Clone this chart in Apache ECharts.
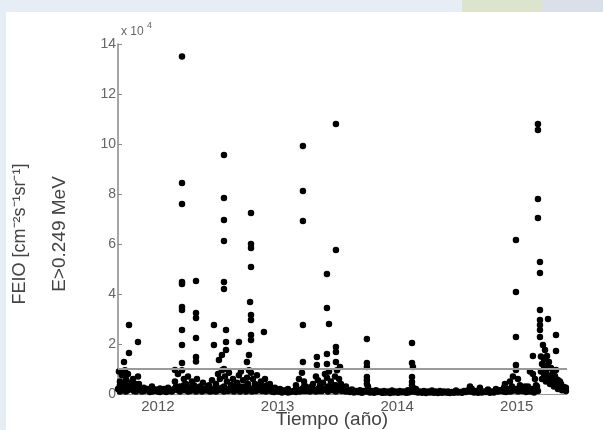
<!DOCTYPE html>
<html>
<head>
<meta charset="utf-8">
<script src="https://cdn.jsdelivr.net/npm/echarts@6/dist/echarts.min.js"></script>
<style>
  html, body { margin: 0; padding: 0; background: #fff; }
  #myChart { width: 603px; height: 430px; }
</style>
</head>
<body>
<div id="myChart"></div>
<script>
// flux values are in units of 10^4 (cm^-2 s^-1 sr^-1), time in decimal years
const yearTicks = [2012, 2013, 2014, 2015]
const fluxTicks = [0, 2, 4, 6, 8, 10, 12, 14]
const threshold = 1

// quiet-time floor, three rows
const floorLow = [
  [2011.666, 0.2], [2011.699, 0.15], [2011.732, 0.1], [2011.766, 0.2], [2011.799, 0.12], [2011.833, 0.18],
  [2011.866, 0.1], [2011.900, 0.15], [2011.933, 0.08], [2011.967, 0.12], [2012.000, 0.1], [2012.033, 0.15],
  [2012.067, 0.08], [2012.100, 0.12], [2012.134, 0.2], [2012.167, 0.15], [2012.201, 0.25], [2012.234, 0.18],
  [2012.268, 0.12], [2012.301, 0.2], [2012.334, 0.15], [2012.368, 0.1], [2012.401, 0.14], [2012.435, 0.1],
  [2012.468, 0.2], [2012.502, 0.15], [2012.535, 0.25], [2012.569, 0.2], [2012.602, 0.15], [2012.635, 0.1],
  [2012.669, 0.2], [2012.702, 0.15], [2012.736, 0.1], [2012.769, 0.2], [2012.803, 0.25], [2012.836, 0.15],
  [2012.870, 0.12], [2012.903, 0.1], [2012.936, 0.14], [2012.970, 0.08], [2013.003, 0.1], [2013.037, 0.06],
  [2013.070, 0.1], [2013.104, 0.08], [2013.137, 0.12], [2013.171, 0.15], [2013.204, 0.2], [2013.237, 0.12],
  [2013.271, 0.1], [2013.304, 0.15], [2013.338, 0.2], [2013.371, 0.12], [2013.405, 0.18], [2013.438, 0.25],
  [2013.472, 0.15], [2013.505, 0.2], [2013.538, 0.12], [2013.572, 0.1], [2013.605, 0.08], [2013.639, 0.06],
  [2013.672, 0.08], [2013.706, 0.05], [2013.739, 0.1], [2013.773, 0.06], [2013.806, 0.05], [2013.839, 0.08],
  [2013.873, 0.05], [2013.906, 0.06], [2013.940, 0.04], [2013.973, 0.06], [2014.007, 0.05], [2014.040, 0.07],
  [2014.074, 0.05], [2014.107, 0.08], [2014.140, 0.1], [2014.174, 0.06], [2014.207, 0.05], [2014.241, 0.04],
  [2014.274, 0.06], [2014.308, 0.05], [2014.341, 0.04], [2014.375, 0.05], [2014.408, 0.06], [2014.441, 0.04],
  [2014.475, 0.05], [2014.508, 0.06], [2014.542, 0.05], [2014.575, 0.08], [2014.609, 0.1], [2014.642, 0.06],
  [2014.676, 0.05], [2014.709, 0.06], [2014.742, 0.08], [2014.776, 0.05], [2014.809, 0.06], [2014.843, 0.1],
  [2014.876, 0.12], [2014.910, 0.08], [2014.943, 0.1], [2014.977, 0.15], [2015.010, 0.1], [2015.044, 0.12],
  [2015.077, 0.08], [2015.110, 0.1], [2015.144, 0.06], [2015.177, 0.12], [2015.211, 0.6], [2015.244, 0.5],
  [2015.278, 0.4], [2015.311, 0.3], [2015.344, 0.2], [2015.378, 0.15], [2015.411, 0.12]
]
const floorMid = [
  [2011.682, 0.1], [2011.716, 0.3], [2011.749, 0.15], [2011.783, 0.25], [2011.816, 0.1], [2011.849, 0.22],
  [2011.883, 0.12], [2011.916, 0.2], [2011.950, 0.1], [2011.983, 0.18], [2012.017, 0.08], [2012.050, 0.2],
  [2012.084, 0.12], [2012.117, 0.1], [2012.151, 0.18], [2012.184, 0.1], [2012.217, 0.15], [2012.251, 0.1],
  [2012.284, 0.15], [2012.318, 0.1], [2012.351, 0.18], [2012.385, 0.2], [2012.418, 0.15], [2012.452, 0.12],
  [2012.485, 0.1], [2012.518, 0.15], [2012.552, 0.1], [2012.585, 0.12], [2012.619, 0.2], [2012.652, 0.15],
  [2012.686, 0.1], [2012.719, 0.2], [2012.753, 0.15], [2012.786, 0.1], [2012.819, 0.12], [2012.853, 0.2],
  [2012.886, 0.15], [2012.920, 0.2], [2012.953, 0.1], [2012.987, 0.15], [2013.020, 0.1], [2013.054, 0.12],
  [2013.087, 0.06], [2013.120, 0.1], [2013.154, 0.08], [2013.187, 0.1], [2013.221, 0.12], [2013.254, 0.2],
  [2013.288, 0.15], [2013.321, 0.1], [2013.355, 0.12], [2013.388, 0.2], [2013.421, 0.1], [2013.455, 0.15],
  [2013.488, 0.1], [2013.522, 0.15], [2013.555, 0.2], [2013.589, 0.15], [2013.622, 0.1], [2013.656, 0.12],
  [2013.689, 0.08], [2013.722, 0.12], [2013.756, 0.1], [2013.789, 0.12], [2013.823, 0.08], [2013.856, 0.1],
  [2013.890, 0.06], [2013.923, 0.1], [2013.957, 0.08], [2013.990, 0.1], [2014.023, 0.08], [2014.057, 0.1],
  [2014.090, 0.06], [2014.124, 0.12], [2014.157, 0.08], [2014.191, 0.1], [2014.224, 0.08], [2014.258, 0.1],
  [2014.291, 0.08], [2014.324, 0.1], [2014.358, 0.08], [2014.391, 0.1], [2014.425, 0.06], [2014.458, 0.08],
  [2014.492, 0.1], [2014.525, 0.08], [2014.559, 0.1], [2014.592, 0.15], [2014.625, 0.1], [2014.659, 0.12],
  [2014.692, 0.08], [2014.726, 0.1], [2014.759, 0.12], [2014.793, 0.1], [2014.826, 0.12], [2014.860, 0.15],
  [2014.893, 0.1], [2014.926, 0.2], [2014.960, 0.12], [2014.993, 0.2], [2015.027, 0.15], [2015.060, 0.2],
  [2015.094, 0.15], [2015.127, 0.2], [2015.161, 0.15], [2015.261, 0.7], [2015.328, 0.35], [2015.395, 0.2]
]
const floorHigh = [
  [2011.682, 0.35], [2011.749, 0.3], [2011.816, 0.4], [2011.883, 0.25], [2011.950, 0.3], [2012.017, 0.22],
  [2012.084, 0.25], [2012.151, 0.3], [2012.217, 0.35], [2012.284, 0.3], [2012.351, 0.28], [2012.418, 0.3],
  [2012.485, 0.35], [2012.552, 0.3], [2012.619, 0.35], [2012.686, 0.3], [2012.753, 0.4], [2012.819, 0.35],
  [2012.886, 0.3], [2012.953, 0.22], [2013.020, 0.18], [2013.087, 0.2], [2013.154, 0.22], [2013.221, 0.3],
  [2013.288, 0.3], [2013.355, 0.35], [2013.421, 0.3], [2013.488, 0.35], [2013.555, 0.25], [2013.622, 0.18],
  [2013.689, 0.15], [2013.756, 0.2], [2013.823, 0.15], [2013.890, 0.12], [2013.957, 0.14], [2014.023, 0.12],
  [2014.090, 0.15], [2014.157, 0.2], [2014.224, 0.12], [2014.291, 0.14], [2014.358, 0.12], [2014.425, 0.1],
  [2014.492, 0.14], [2014.559, 0.12], [2014.625, 0.2], [2014.692, 0.15], [2014.759, 0.18], [2014.826, 0.2],
  [2014.893, 0.25], [2014.960, 0.3], [2015.027, 0.25], [2015.094, 0.3], [2015.161, 0.35], [2015.227, 0.8],
  [2015.294, 0.55], [2015.361, 0.35], [2015.411, 0.25]
]

// mid-level points of each enhancement
const eventBand = [
  [2011.674, 0.9], [2011.682, 0.5], [2011.691, 0.3], [2011.699, 0.75], [2011.716, 0.4], [2011.724, 0.95],
  [2011.732, 0.6], [2011.741, 0.3], [2011.749, 0.8], [2011.766, 0.45], [2011.774, 0.2], [2011.791, 0.6],
  [2011.799, 0.35], [2011.816, 0.25], [2011.833, 0.7], [2011.841, 0.4], [2011.858, 0.2],
  [2012.142, 0.5], [2012.167, 0.8], [2012.184, 0.3], [2012.201, 0.95], [2012.217, 0.6], [2012.234, 0.4],
  [2012.251, 0.7], [2012.268, 0.25], [2012.284, 0.5], [2012.301, 0.35], [2012.326, 0.6], [2012.351, 0.3],
  [2012.376, 0.45], [2012.401, 0.2], [2012.426, 0.35], [2012.452, 0.55],
  [2012.485, 0.4], [2012.502, 0.8], [2012.518, 0.6], [2012.535, 0.95], [2012.552, 1.0], [2012.560, 0.7],
  [2012.577, 0.5], [2012.594, 0.85], [2012.610, 0.35], [2012.627, 0.6], [2012.644, 0.25], [2012.661, 0.45],
  [2012.677, 0.75], [2012.694, 0.9], [2012.711, 0.55], [2012.727, 0.3], [2012.744, 0.65], [2012.761, 0.95],
  [2012.778, 0.85], [2012.794, 0.6], [2012.811, 0.4], [2012.828, 0.75], [2012.844, 0.3], [2012.861, 0.5],
  [2012.878, 0.25], [2012.895, 0.6], [2012.911, 0.35], [2012.928, 0.2], [2012.936, 0.4], [2012.978, 0.25],
  [2013.020, 0.2], [2013.062, 0.15],
  [2013.154, 0.35], [2013.179, 0.6], [2013.204, 0.85], [2013.221, 0.5], [2013.237, 0.3], [2013.271, 0.25],
  [2013.296, 0.4], [2013.321, 0.7], [2013.338, 0.55], [2013.355, 0.3], [2013.380, 0.45], [2013.396, 0.8],
  [2013.413, 0.65], [2013.430, 0.9], [2013.446, 0.5], [2013.463, 0.35], [2013.480, 0.7], [2013.497, 0.95],
  [2013.514, 0.6], [2013.530, 0.4], [2013.547, 0.25], [2013.572, 0.3],
  [2013.747, 0.4], [2013.747, 0.55], [2013.756, 0.3], [2014.124, 0.35], [2014.132, 0.25],
  [2014.609, 0.3], [2014.692, 0.25],
  [2014.901, 0.4], [2014.943, 0.5], [2014.968, 0.7], [2015.010, 0.6], [2015.027, 0.35], [2015.069, 0.3],
  [2015.110, 0.9], [2015.135, 0.8], [2015.152, 0.6], [2015.169, 0.3],
  [2015.219, 1.96], [2015.236, 1.76], [2015.253, 1.52], [2015.269, 1.28], [2015.286, 1.04], [2015.303, 0.88],
  [2015.319, 0.72], [2015.344, 0.56], [2015.370, 0.4], [2015.395, 0.28], [2015.211, 1.2], [2015.227, 1.0],
  [2015.244, 0.9], [2015.261, 0.75], [2015.278, 0.65], [2015.294, 0.5], [2015.311, 0.45], [2015.328, 0.6],
  [2015.344, 0.35], [2015.361, 0.5], [2015.378, 0.25], [2015.202, 1.5], [2015.202, 0.9], [2015.227, 1.4],
  [2015.253, 1.15]
]

// peak values
const peaks = [
  [2011.758, 2.76], [2011.833, 2.08], [2011.758, 1.64], [2011.716, 1.28],
  [2012.201, 13.5], [2012.201, 8.44], [2012.201, 7.6], [2012.201, 4.48], [2012.201, 4.4], [2012.201, 3.48],
  [2012.201, 3.36], [2012.201, 2.56], [2012.201, 1.96], [2012.201, 1.24], [2012.142, 0.96],
  [2012.318, 4.52], [2012.318, 3.24], [2012.318, 3.04], [2012.318, 2.24], [2012.318, 1.48], [2012.318, 1.3],
  [2012.468, 2.76], [2012.468, 1.96], [2012.569, 2.56], [2012.569, 2.08], [2012.569, 1.76], [2012.535, 1.56],
  [2012.510, 1.36],
  [2012.552, 9.56], [2012.552, 7.84], [2012.552, 6.96], [2012.552, 6.12], [2012.552, 4.48], [2012.552, 4.2],
  [2012.778, 7.24], [2012.778, 6.0], [2012.778, 5.84], [2012.778, 5.08], [2012.770, 3.68], [2012.778, 3.16],
  [2012.778, 2.96], [2012.778, 2.36], [2012.778, 2.16], [2012.886, 2.48], [2012.677, 2.08], [2012.761, 1.56],
  [2012.744, 1.28],
  [2013.212, 9.92], [2013.212, 8.12], [2013.212, 6.92], [2013.212, 2.76], [2013.212, 1.28],
  [2013.488, 10.8], [2013.488, 5.76], [2013.488, 1.88], [2013.488, 1.68], [2013.488, 1.28], [2013.522, 1.08],
  [2013.413, 4.8], [2013.413, 3.44], [2013.430, 2.8], [2013.413, 1.6], [2013.413, 1.2],
  [2013.329, 1.48], [2013.329, 1.16],
  [2013.747, 2.2], [2013.747, 1.24], [2013.747, 1.08], [2013.747, 0.68],
  [2014.124, 2.04], [2014.124, 1.24], [2014.132, 1.08], [2014.124, 0.68], [2014.124, 0.48],
  [2014.993, 6.16], [2014.993, 4.08], [2014.993, 2.28], [2014.993, 1.16], [2014.993, 0.96], [2015.135, 1.52],
  [2015.177, 10.8], [2015.177, 10.56], [2015.177, 7.8], [2015.177, 7.04], [2015.194, 5.28], [2015.194, 4.84],
  [2015.194, 3.36], [2015.194, 2.96], [2015.194, 2.76], [2015.194, 2.56], [2015.261, 3.0], [2015.194, 2.28],
  [2015.328, 2.36], [2015.328, 1.72], [2015.328, 0.96]
]

const allPoints = floorLow.concat(floorMid, floorHigh, eventBand, peaks)
const labelFont = 'Liberation Sans, Arial, sans-serif'

const myChart = echarts.init(document.getElementById('myChart'))
myChart.setOption({
  animation: false,
  backgroundColor: '#fff',
  grid: {
    left: 118,
    right: 36,
    top: 44,
    bottom: 36,
    containLabel: false,
    outerBoundsMode: 'none'
  },
  xAxis: {
    type: 'value',
    min: 2011.666,
    max: 2015.42,
    axisLine: { onZero: false, lineStyle: { color: '#999', width: 1 } },
    axisTick: { show: false },
    splitLine: { show: false },
    axisLabel: {
      customValues: yearTicks,
      color: '#555',
      fontSize: 15,
      fontFamily: labelFont,
      margin: 5,
      formatter: v => String(v)
    }
  },
  yAxis: {
    type: 'value',
    min: 0,
    max: 14,
    interval: 2,
    axisLine: { show: true, lineStyle: { color: '#888', width: 1.5 } },
    axisTick: { show: true, inside: true, length: 4, lineStyle: { color: '#888' } },
    splitLine: { show: false },
    axisLabel: {
      color: '#666',
      fontSize: 14,
      fontFamily: labelFont,
      margin: 2,
      formatter: v => (fluxTicks.indexOf(v) >= 0 ? String(v) : '')
    }
  },
  graphic: [
    { type: 'rect', left: 0, top: 0, shape: { width: 603, height: 12 }, style: { fill: '#e7edf4' }, silent: true },
    { type: 'rect', left: 462, top: 0, shape: { width: 80, height: 12 }, style: { fill: '#dce4cd' }, silent: true },
    { type: 'rect', left: 542, top: 0, shape: { width: 61, height: 12 }, style: { fill: '#dadfe9' }, silent: true },
    { type: 'rect', left: 0, top: 12, shape: { width: 6, height: 418 }, style: { fill: '#e7edf4' }, silent: true },
    {
      type: 'text',
      x: 121,
      y: 32,
      style: { text: 'x 10', fontSize: 12, fill: '#666', fontFamily: labelFont, verticalAlign: 'middle' }
    },
    {
      type: 'text',
      x: 147,
      y: 26,
      style: { text: '4', fontSize: 9, fill: '#666', fontFamily: labelFont, verticalAlign: 'middle' }
    },
    {
      type: 'text',
      x: 20,
      y: 234,
      rotation: Math.PI / 2,
      style: {
        text: 'FEIO [cm\u207B\u00B2s\u207B\u00B9sr\u207B\u00B9]',
        fontSize: 18,
        fill: '#444',
        fontFamily: labelFont,
        align: 'center',
        verticalAlign: 'middle'
      }
    },
    {
      type: 'text',
      x: 60,
      y: 234,
      rotation: Math.PI / 2,
      style: {
        text: 'E>0.249 MeV',
        fontSize: 19,
        fill: '#444',
        fontFamily: labelFont,
        align: 'center',
        verticalAlign: 'middle'
      }
    },
    {
      type: 'text',
      x: 332,
      y: 410,
      style: {
        text: 'Tiempo (año)',
        fontSize: 19,
        fill: '#444',
        fontFamily: labelFont,
        align: 'center',
        verticalAlign: 'top'
      }
    }
  ],
  series: [{
    type: 'scatter',
    symbol: 'circle',
    symbolSize: 6.5,
    itemStyle: { color: '#000', opacity: 1 },
    data: allPoints,
    markLine: {
      silent: true,
      symbol: 'none',
      label: { show: false },
      lineStyle: { color: '#9a9a9a', type: 'solid', width: 2 },
      data: [{ yAxis: threshold }]
    }
  }]
})
</script>
</body>
</html>
